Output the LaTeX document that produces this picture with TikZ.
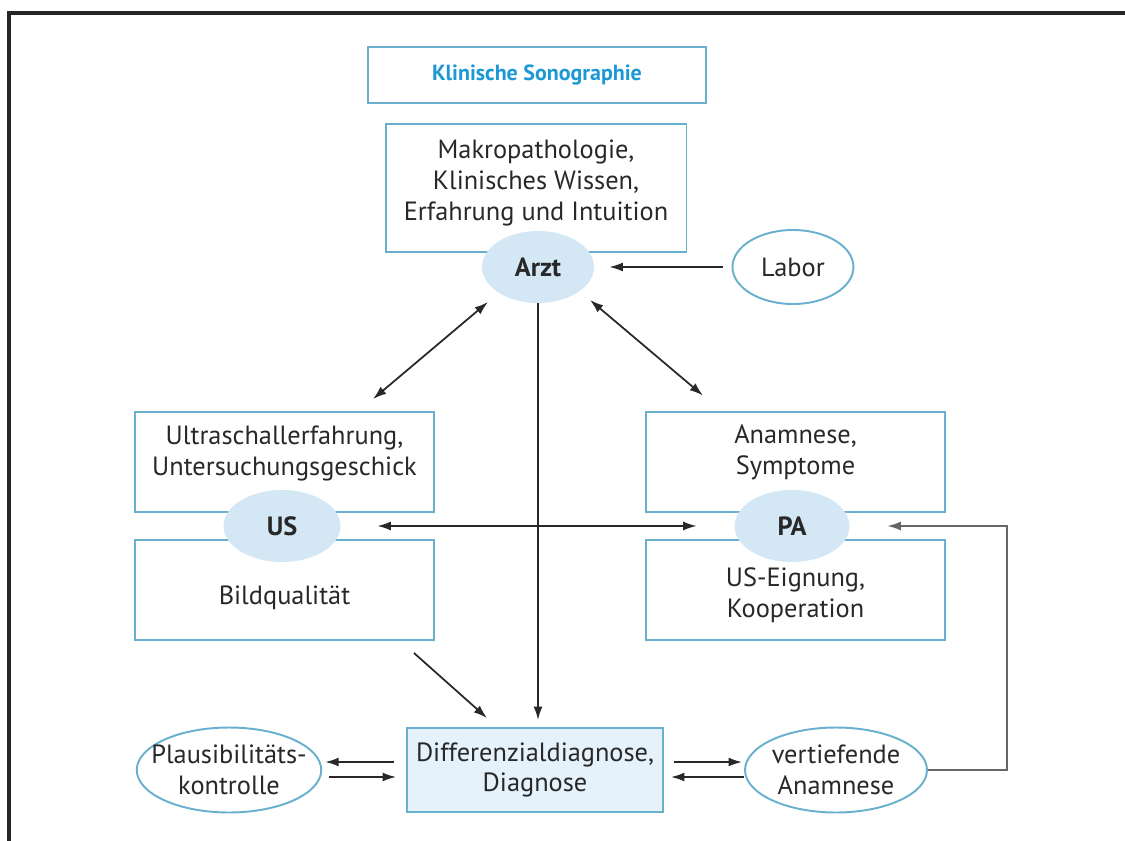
\documentclass[tikz,border=0pt]{standalone}
\usepackage{fontspec}
\setmainfont{PT Sans}
\usetikzlibrary{arrows,arrows.meta,shapes,calc}
\definecolor{sonoline}{RGB}{104,176,206}
\definecolor{sonofill}{RGB}{212,231,245}
\definecolor{sonopale}{RGB}{229,242,251}
\definecolor{sonotitle}{RGB}{28,152,212}
\definecolor{sonotext}{RGB}{40,40,40}
\definecolor{sonoarrow}{RGB}{40,40,40}
\newcommand{\bodyfont}{\fontsize{15}{17.5}\selectfont}
\newcommand{\txtup}[1]{\rule[-#1]{0pt}{#1}}
\newcommand{\txtdown}[1]{\rule{0pt}{#1}}
\tikzset{
    block/.style = {draw=sonoline, rectangle, line width=1.1pt, text=sonotext,
        minimum width=5.98cm, minimum height=2cm, align=center, inner sep=0pt},
    blob/.style = {ellipse, fill=sonofill, text=sonotext, inner sep=0pt,
        minimum width=2.3cm, minimum height=1.44cm, font=\bodyfont\bfseries},
    oval/.style = {draw=sonoline, ellipse, line width=1.1pt, fill=white, text=sonotext,
        align=center, inner xsep=-0.25cm, inner ysep=0pt,
        minimum width=3.64cm, minimum height=1.7cm},
    arrow/.style = {draw=sonoarrow, ->, line width=1pt},
    twoway/.style = {draw=sonoarrow, <->, line width=1pt}
}

\begin{document}
\begin{tikzpicture}[x=0.02cm, y=-0.02cm, >={Latex[length=0.27cm,width=0.18cm]}, every node/.style={font=\bodyfont}]
    \useasboundingbox (0,0) rectangle (1125,841);
    \draw [line width=2.3pt, black!85] (9,841) -- (9,13) -- (1125,13);

    \node [block, minimum width=6.76cm, minimum height=1.12cm, text=sonotitle,
        font=\fontsize{12.5}{14}\selectfont\bfseries, name=title] at (537,75) {Klinische Sonographie};
    \node [block, minimum width=6.02cm, minimum height=2.56cm, name=makro] at (536,188)
        {Makropathologie,\\Klinisches Wissen,\\Erfahrung und Intuition\txtup{0.32cm}};
    \node [blob, minimum width=2.24cm, name=arzt] at (538,267) {Arzt};
    \node [oval, right of=arzt, node distance=5.1cm, minimum width=2.42cm, minimum height=1.48cm, name=labor] {Labor};

    \node [block, name=ustop] at (284.5,462) {Ultraschallerfahrung,\\Untersuchungsgeschick\txtup{0.44cm}};
    \node [block, name=usbot] at (284.5,590) {\txtdown{0.7cm}Bildqualität};
    \node [blob, minimum width=2.34cm, name=us] at (282,526) {US};
    \node [block, name=patop] at (795.5,462) {Anamnese,\\Symptome\txtup{0.5cm}};
    \node [block, name=pabot] at (795.5,590) {\txtdown{0.58cm}US-Eignung,\\Kooperation};
    \node [blob, name=pa] at (792,526) {PA};

    \node [block, fill=sonopale, minimum width=5.12cm, minimum height=1.68cm, name=diag] at (535,770)
        {Differenzialdiagnose,\\Diagnose};
    \node [oval, name=plaus] at (229,770) {Plausibilitäts-\\kontrolle};
    \node [oval, name=vert] at (836,770) {vertiefende\\Anamnese};
    \coordinate (back) at (1007,770);

    \draw [arrow, shorten <=0.17cm, shorten >=0.3cm] (labor) -- (arzt);
    \draw [twoway] ([xshift=-1.0cm,yshift=-0.7cm]arzt.center) -- ([xshift=1.77cm,yshift=0.24cm]ustop.north);
    \draw [twoway] ([xshift=1.04cm,yshift=-0.66cm]arzt.center) -- ([xshift=-1.85cm,yshift=0.31cm]patop.north);
    \draw [arrow, shorten >=0.14cm] (arzt.south) -- (arzt.south |- diag.north);
    \draw [twoway, shorten <=0.73cm, shorten >=0.75cm] (us) -- (pa);
    \draw [arrow] ([xshift=-0.42cm,yshift=-0.24cm]usbot.south east) -- ([xshift=1.62cm,yshift=0.18cm]diag.north west);

    \draw [arrow, shorten <=0.24cm, shorten >=0.06cm] ([yshift=0.16cm]diag.west) -- ([yshift=0.16cm]plaus.east);
    \draw [arrow, shorten <=0.14cm, shorten >=0.2cm] ([yshift=-0.14cm]plaus.east) -- ([yshift=-0.14cm]diag.west);
    \draw [arrow, shorten <=0.2cm, shorten >=0.04cm] ([yshift=0.16cm]diag.east) -- ([yshift=0.16cm]vert.west);
    \draw [arrow, shorten >=0.14cm] ([yshift=-0.14cm]vert.west) -- ([yshift=-0.14cm]diag.east);
    \draw [arrow, draw=black!60, shorten >=0.75cm] (vert.east) -- (back) |- (pa.east);
\end{tikzpicture}
\end{document}
